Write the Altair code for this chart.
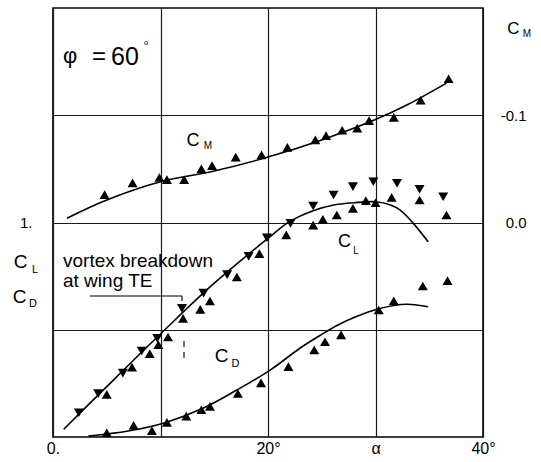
import altair as alt
import pandas as pd

# ---- data ----
cm_alpha = [4.8, 7.4, 9.9, 10.6, 12.2, 13.8, 14.8, 17.0, 19.4, 21.8, 24.4, 25.4, 26.9, 28.3, 29.4, 31.7, 34.2, 36.8]
cm_vals = [-0.026, -0.037, -0.042, -0.040, -0.040, -0.050, -0.053, -0.061, -0.063, -0.070, -0.077, -0.081, -0.086, -0.088, -0.095, -0.098, -0.114, -0.134]
cm_fit_alpha = [1.3, 5, 10, 15, 20, 25, 30, 33, 36.6]
cm_fit = [-0.004, -0.021, -0.038, -0.048, -0.061, -0.077, -0.096, -0.110, -0.130]

cl_down_alpha = [2.4, 4.2, 6.5, 8.25, 9.7, 12.0, 14.0, 16.2, 18.2, 19.9, 22.1, 24.2, 26.1, 27.9, 29.8, 32.0, 34.1, 36.3]
cl_down = [0.113, 0.202, 0.298, 0.401, 0.46, 0.60, 0.671, 0.757, 0.842, 0.928, 0.996, 1.077, 1.128, 1.167, 1.19, 1.183, 1.155, 1.12]
cl_up_alpha = [5.0, 7.35, 9.0, 9.8, 10.7, 12.1, 13.7, 14.6, 17.1, 19.2, 21.7, 24.2, 25.1, 26.4, 27.9, 29.1, 30.0, 31.5, 34.1, 36.6]
cl_up = [0.199, 0.326, 0.388, 0.43, 0.466, 0.553, 0.595, 0.634, 0.746, 0.855, 0.942, 0.988, 1.015, 1.035, 1.066, 1.102, 1.092, 1.117, 1.105, 1.035]
cl_fit_alpha = [1.0, 5, 10.4, 15, 19.9, 22, 24.2, 26, 28, 30, 31.4, 32.3, 33.4, 34.9]
cl_fit = [0.036, 0.235, 0.50, 0.717, 0.922, 1.004, 1.055, 1.08, 1.092, 1.097, 1.082, 1.058, 1.003, 0.91]

cd_alpha = [5.0, 7.5, 9.2, 10.6, 12.4, 13.8, 14.6, 17.2, 19.35, 21.9, 24.3, 25.3, 26.8, 30.3, 31.7, 34.4, 36.7]
cd_vals = [0.020, 0.054, 0.030, 0.068, 0.097, 0.127, 0.143, 0.203, 0.252, 0.328, 0.406, 0.444, 0.476, 0.592, 0.635, 0.704, 0.729]
cd_fit_alpha = [3.3, 7, 10.5, 14, 17.1, 20.2, 23, 24.8, 26.5, 28, 30.3, 32.9, 34.9]
cd_fit = [0.005, 0.028, 0.068, 0.135, 0.219, 0.312, 0.415, 0.472, 0.522, 0.557, 0.598, 0.619, 0.607]

x_ticks = [0, 10, 20, 30, 40]
FONT = "Liberation Sans"

# ---- layout ----
W, H = 430, 429
OX, OY = 53, 8  # plot origin in the page

xscale = alt.Scale(domain=[0, 40], nice=False, zero=False)
yscale = alt.Scale(domain=[0, 2], nice=False, zero=False)
cmscale = alt.Scale(domain=[-0.2, 0.2], nice=False, zero=False, reverse=True)

xaxis = alt.Axis(values=x_ticks, grid=True, gridColor="#1a1a1a", gridWidth=1.2, gridOpacity=1,
                 domain=False, ticks=False, labelPadding=3, labelFontSize=16, labelFont=FONT,
                 labelColor="black", labelFlush=False, title=None,
                 labelExpr="datum.value==0 ? '0.' : datum.value==20 ? '20°' : datum.value==30 ? 'α' : datum.value==40 ? '40°' : ''")
yaxis = alt.Axis(values=[0.5, 1, 1.5], grid=True, gridColor="#1a1a1a", gridWidth=1.2, gridOpacity=1,
                 domain=False, ticks=False, labelPadding=21, labelFontSize=15, labelFont=FONT,
                 labelColor="black", title=None, labelExpr="datum.value==1 ? '1.' : ''")
cmaxis = alt.Axis(orient="right", values=[-0.1, 0.0], grid=False, domain=False, ticks=False,
                  labelAlign="right", labelPadding=43, labelFontSize=15, labelFont=FONT,
                  labelColor="black", title=None,
                  labelExpr="datum.value < -0.05 ? '-0.1' : '0.0'")

df_cl_down = pd.DataFrame({"alpha": cl_down_alpha, "v": cl_down})
df_cl_up = pd.DataFrame({"alpha": cl_up_alpha, "v": cl_up})
df_cd = pd.DataFrame({"alpha": cd_alpha, "v": cd_vals})
df_cl_fit = pd.DataFrame({"alpha": cl_fit_alpha, "v": cl_fit})
df_cd_fit = pd.DataFrame({"alpha": cd_fit_alpha, "v": cd_fit})
df_cm = pd.DataFrame({"alpha": cm_alpha, "v": cm_vals})
df_cm_fit = pd.DataFrame({"alpha": cm_fit_alpha, "v": cm_fit})

MS = 100

def pts(df, shape, sc, ax):
    return alt.Chart(df).mark_point(shape=shape, filled=True, color="black", opacity=1, size=MS).encode(
        x=alt.X("alpha:Q", scale=xscale, axis=xaxis),
        y=alt.Y("v:Q", scale=sc, axis=ax))

def line(df, sc, ax):
    return alt.Chart(df).mark_line(color="black", strokeWidth=1.6, interpolate="catmull-rom").encode(
        x=alt.X("alpha:Q", scale=xscale, axis=xaxis),
        y=alt.Y("v:Q", scale=sc, axis=ax))

left = alt.layer(
    line(df_cl_fit, yscale, yaxis),
    line(df_cd_fit, yscale, yaxis),
    pts(df_cl_down, "triangle-down", yscale, yaxis),
    pts(df_cl_up, "triangle-up", yscale, yaxis),
    pts(df_cd, "triangle-up", yscale, yaxis),
)
right = alt.layer(
    line(df_cm_fit, cmscale, cmaxis),
    pts(df_cm, "triangle-up", cmscale, cmaxis),
)

one = alt.Data(values=[{}])

def txt(s, x, y, size, align="center", baseline="middle"):
    return alt.Chart(one).mark_text(text=s, font=FONT, fontSize=size, color="black",
                                    align=align, baseline=baseline).encode(
        x=alt.value(x - OX), y=alt.value(y - OY))

def seg(x1, y1, x2, y2, dash=None):
    kw = dict(color="black", strokeWidth=1.1)
    if dash:
        kw["strokeDash"] = dash
    return alt.Chart(one).mark_rule(**kw).encode(
        x=alt.value(x1 - OX), x2=alt.value(x2 - OX), y=alt.value(y1 - OY), y2=alt.value(y2 - OY))

annos = [
    txt("φ", 70, 56, 22),
    txt("=", 92, 57, 24, align="left"),
    txt("60", 111, 57, 25, align="left"),
    txt("°", 146, 46, 13),
    txt("C", 193, 141, 18), txt("M", 208, 146, 10),
    txt("C", 513.5, 28.5, 17), txt("M", 527, 33.5, 10),
    txt("C", 20.5, 261.5, 19), txt("L", 35, 270, 11),
    txt("C", 19.5, 296.5, 19), txt("D", 33, 304, 11),
    txt("C", 344.5, 242, 18), txt("L", 356, 251, 10),
    txt("C", 221.5, 356, 19), txt("D", 235.5, 364, 11),
    txt("vortex breakdown", 63, 267, 19, align="left", baseline="alphabetic"),
    txt("at wing TE", 63, 287, 19, align="left", baseline="alphabetic"),
    seg(90, 296, 182, 296),
    seg(182, 296, 182, 301),
    seg(184, 341, 184, 358, dash=[6, 5]),
]

chart = alt.layer(left, right, *annos).resolve_scale(y="independent").properties(
    width=W, height=H,
    padding={"left": OX, "top": OY, "right": 541 - OX - W, "bottom": 462 - OY - H},
    autosize=alt.AutoSizeParams(type="none"),
    background="white",
).configure_view(stroke="black", strokeWidth=1.6)

chart.save("out.html", embed_options={"renderer": "svg", "actions": False})
